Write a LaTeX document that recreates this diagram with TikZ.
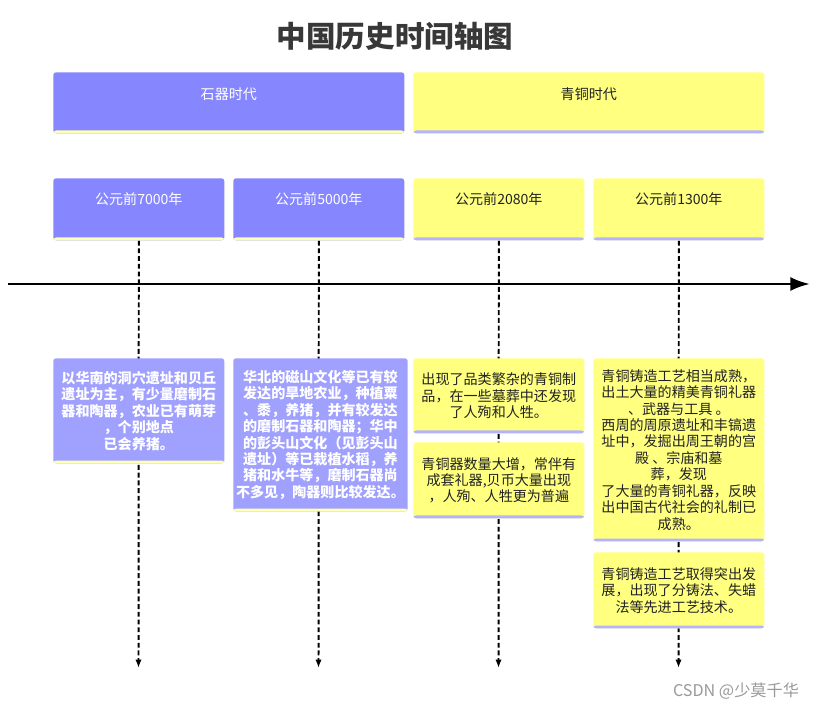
\documentclass[tikz,border=0pt]{standalone}
\usepackage{fontspec}
\setmainfont{Noto Sans CJK SC}
\usetikzlibrary{arrows.meta,backgrounds}
\definecolor{StoneHead}{HTML}{8686FF}
\definecolor{StoneEvent}{HTML}{A0A0FF}
\definecolor{StoneLine}{HTML}{FFFFB3}
\definecolor{BronzeMain}{HTML}{FFFF80}
\definecolor{BronzeLine}{HTML}{B3B3FF}
\definecolor{InkDark}{HTML}{222222}
\tikzset{>=Stealth,every node/.style={font=\fontsize{10pt}{11.7pt}\selectfont},
 panel/.style={anchor=north west,inner xsep=2pt,inner ysep=0pt,align=center,
 rounded corners=2pt},
 period/.style={panel,minimum width=8.775cm,text height=0.675cm,text depth=0.85cm},
 datebox/.style={panel,minimum width=4.275cm,text height=0.65cm,text depth=0.9cm},
 eventbox/.style={panel,minimum width=4.275cm},
 stone/.style={fill=StoneHead,text=white,path picture={\fill[StoneLine]
 ([yshift=2pt]path picture bounding box.south west) rectangle
 (path picture bounding box.south east);}},
 bronze/.style={fill=BronzeMain,text=InkDark,path picture={\fill[BronzeLine]
 ([yshift=2pt]path picture bounding box.south west) rectangle
 (path picture bounding box.south east);}},
 stonetext/.style={stone,fill=StoneEvent,font=\fontsize{10pt}{11.7pt}\selectfont\bfseries},
 drop/.style={dash pattern=on 3.5pt off 2pt,line width=1.4pt,
 -{Latex[length=6pt,width=4.5pt]}}}

\begin{document}
\begin{tikzpicture}[x=0.025cm,y=0.025cm]
\useasboundingbox (0,0) rectangle (820,-711);
\node[font=\fontsize{21pt}{24pt}\selectfont\bfseries,text=InkDark!90] (title)
 at (395,-36) {中国历史时间轴图};
% periods
\node[period,stone] (stoneage) at (53,-72) {石器时代};
\node[period,bronze] (bronzeage) at (413,-72) {青铜时代};
% dates
\node[datebox,stone] (d1) at (53,-178) {公元前7000年};
\node[datebox,stone] (d2) at (233,-178) {公元前5000年};
\node[datebox,bronze] (d3) at (413,-178) {公元前2080年};
\node[datebox,bronze] (d4) at (593,-178) {公元前1300年};
% events
\node[eventbox,stonetext,minimum height=2.625cm] (e1) at (53,-358)
 {以华南的洞穴遗址和贝丘\\遗址为主，有少量磨制石\\器和陶器，农业已有萌芽\\，个别地点\\已会养猪。};
\node[eventbox,stonetext,minimum height=3.825cm] (e2) at (233,-358)
 {华北的磁山文化等已有较\\发达的旱地农业，种植粟\\、黍，养猪，并有较发达\\的磨制石器和陶器；华中\\的彭头山文化（见彭头山\\遗址）等已栽植水稻，养\\猪和水牛等，磨制石器尚\\不多见，陶器则比较发达。};
\node[eventbox,bronze,minimum height=1.875cm] (e3) at (413,-358)
 {出现了品类繁杂的青铜制\\品，在一些墓葬中还发现\\了人殉和人牲。};
\node[eventbox,bronze,minimum height=1.9cm] (e4) at (413,-442)
 {青铜器数量大增，常伴有\\成套礼器,贝币大量出现\\，人殉、人牲更为普遍};
\node[eventbox,bronze,minimum height=4.575cm] (e5) at (593,-358)
 {青铜铸造工艺相当成熟，\\出土大量的精美青铜礼器\\、武器与工具 。\\西周的周原遗址和丰镐遗\\址中，发掘出周王朝的宫\\殿 、宗庙和墓\\葬，发现\\了大量的青铜礼器，反映\\出中国古代社会的礼制已\\成熟。};
\node[eventbox,bronze,minimum height=1.9cm] (e6) at (593,-552)
 {青铜铸造工艺取得突出发\\展，出现了分铸法、失蜡\\法等先进工艺技术。};
% axis
\coordinate (axisL) at (8,-284);
\coordinate (axisR) at (810,-284);
\foreach \i/\x in {1/138.5,2/318.5,3/498.5,4/678.5}
 \coordinate (end\i) at (\x,-668);
\begin{scope}[on background layer]
\foreach \i in {1,...,4} \draw[drop] (d\i.south) -- (end\i);
\end{scope}
\draw[line width=2pt,-{Latex[length=14pt,width=10pt]}] (axisL) -- (axisR);
\node[text=black!40,font=\fontsize{11.5pt}{13pt}\selectfont] (mark) at (736,-691)
 {CSDN @少莫千华};
\end{tikzpicture}
\end{document}
